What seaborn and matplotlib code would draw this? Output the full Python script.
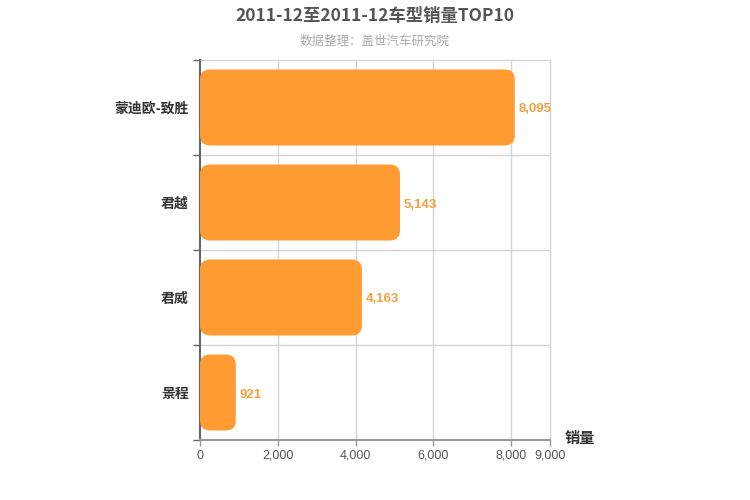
import matplotlib
matplotlib.use("Agg")
import matplotlib.pyplot as plt
import seaborn as sns
import pandas as pd
from matplotlib.patches import FancyBboxPatch
from matplotlib.ticker import FixedLocator

categories = ["蒙迪欧-致胜", "君越", "君威", "景程"]
values = [8095, 5143, 4163, 921]
xticks = [0, 2000, 4000, 6000, 8000, 9000]
xtick_labels = ["0", "2,000", "4,000", "6,000", "8,000", "9,000"]
title = "2011-12至2011-12车型销量TOP10"
subtitle = "数据整理：盖世汽车研究院"
xlabel = "销量"

sns.set_theme(style="white")
plt.rcParams['font.family'] = ['Noto Sans CJK SC', 'DejaVu Sans']

df = pd.DataFrame({"cat": categories, "val": values})
bar_color = "#FF9B33"

fig = plt.figure(figsize=(7.5, 5), dpi=100)
ax = fig.add_axes([200/750, 60/500, 350/750, 380/500])
sns.barplot(data=df, x="val", y="cat", orient="h", color=bar_color,
            width=0.8, ax=ax, saturation=1)

ax.set_xlim(0, 9000)
ax.set_ylim(3.5, -0.5)

# replace bars with rounded ones
x_per_px = 9000 / 350
y_per_px = 4 / 380
radius_px = 10
for p in list(ax.patches):
    x0, y0 = p.get_x(), p.get_y()
    w, h = p.get_width(), p.get_height()
    p.remove()
    fb = FancyBboxPatch((x0, y0), w, h,
                        boxstyle=f"round,pad=0,rounding_size={radius_px * x_per_px}",
                        mutation_aspect=y_per_px / x_per_px,
                        facecolor=bar_color, edgecolor="none", zorder=3)
    ax.add_patch(fb)

for i, v in enumerate(values):
    ax.text(v + 4 * x_per_px, i + 2 * y_per_px, f"{v:,}", va="center", ha="left",
            color="#F4A040", fontsize=9.5, fontweight="bold", zorder=4,
            family=['Liberation Sans', 'DejaVu Sans'])

# grids
ax.set_xticks(xticks)
ax.set_xticklabels(xtick_labels, color="#555555", fontsize=9,
                   family=['Liberation Sans', 'DejaVu Sans'])
for xv in xticks[1:]:
    ax.axvline(xv, color="#D5D5D5", linewidth=1, zorder=0, clip_on=False)
for b in [-0.5, 0.5, 1.5, 2.5]:
    ax.axhline(b, color="#D5D5D5", linewidth=1, zorder=0, clip_on=False)

ax.set_yticks(range(len(categories)))
ax.set_yticklabels(categories, fontsize=10, fontweight="bold", color="#333333")
ax.yaxis.set_minor_locator(FixedLocator([-0.5, 0.5, 1.5, 2.5, 3.5]))
ax.tick_params(axis="y", which="major", length=0, pad=8)
ax.tick_params(axis="y", which="minor", length=5, width=1, color="#666666", left=True)
ax.tick_params(axis="x", which="major", length=4, width=1, color="#999999", bottom=True, pad=3)

ax.set_xlabel("")
ax.set_ylabel("")
for s in ["top", "right"]:
    ax.spines[s].set_visible(False)
ax.spines["left"].set_color("#666666")
ax.spines["left"].set_linewidth(1.5)
ax.spines["bottom"].set_color("#999999")
ax.spines["bottom"].set_linewidth(1.5)

fig.text(580/750, 1 - 438/500, xlabel, ha="center", va="center",
         fontsize=11, fontweight="bold", color="#333333")
fig.text(0.5, 1 - 16/500, title, ha="center", va="center",
         fontsize=12.5, fontweight="bold", color="#555555")
fig.text(0.5, 1 - 41/500, subtitle, ha="center", va="center",
         fontsize=9, color="#AAAAAA")

fig.savefig("out.png", dpi=100)
